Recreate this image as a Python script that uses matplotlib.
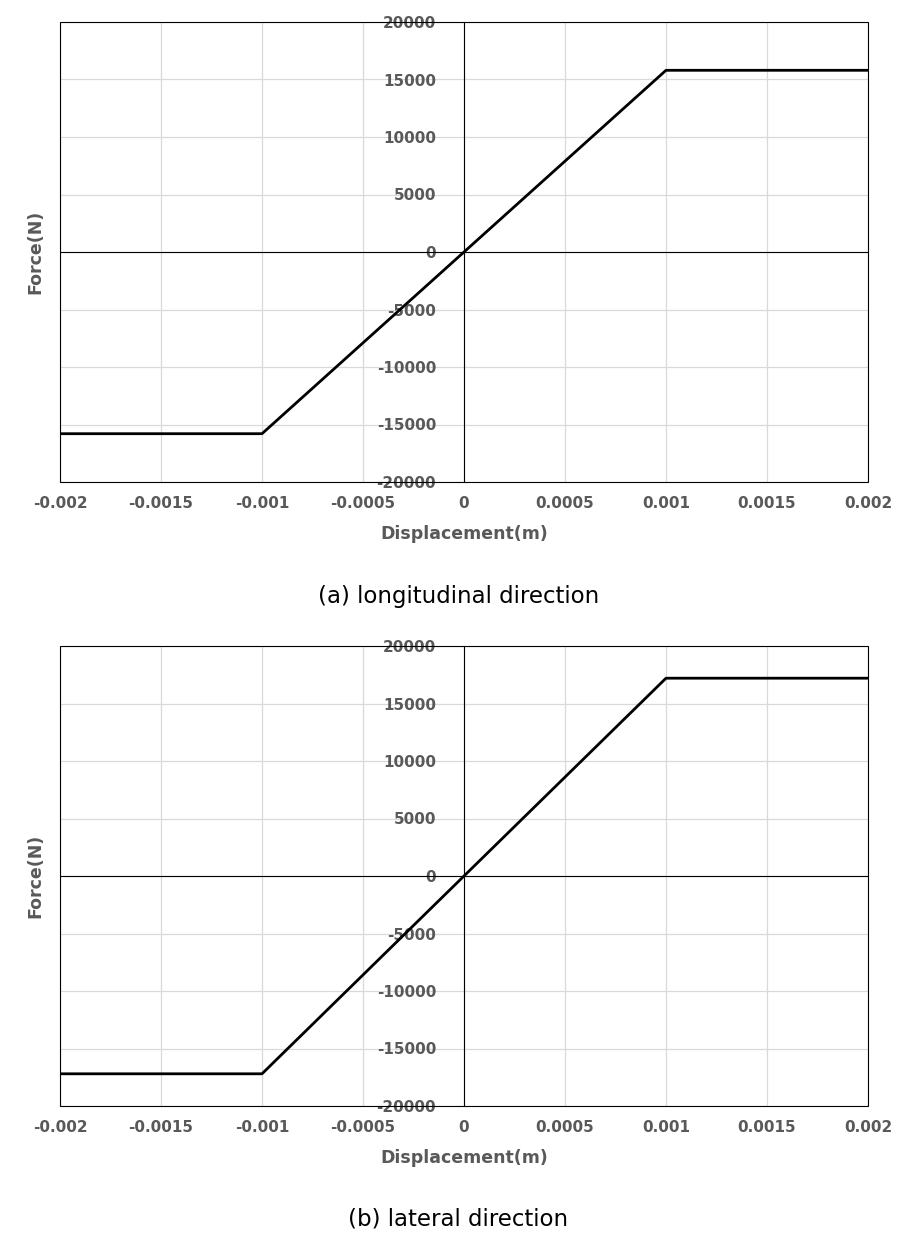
import matplotlib
matplotlib.use("Agg")
import matplotlib.pyplot as plt
from matplotlib.patches import Rectangle

disp = [-0.002, -0.001, -0.0005, 0.0, 0.0005, 0.001, 0.002]
force_long = [-15800, -15800, -7900, 0, 7900, 15800, 15800]
force_lat = [-17200, -17200, -8600, 0, 8600, 17200, 17200]
xticks = [-0.002, -0.0015, -0.001, -0.0005, 0, 0.0005, 0.001, 0.0015, 0.002]
xticklabels = ["-0.002", "-0.0015", "-0.001", "-0.0005", "0", "0.0005", "0.001", "0.0015", "0.002"]
yticks = [-20000, -15000, -10000, -5000, 0, 5000, 10000, 15000, 20000]
captions = ["(a) longitudinal direction", "(b) lateral direction"]

W, H = 917, 1239
fig = plt.figure(figsize=(W/100, H/100), dpi=100)
grey = "#595959"

def panel(rect, force, caption, cap_y):
    ax = fig.add_axes(rect)
    ax.plot(disp, force, color="black", lw=2)
    ax.set_xlim(-0.002, 0.002)
    ax.set_ylim(-20000, 20000)
    ax.set_xticks(xticks)
    ax.set_xticklabels(xticklabels)
    ax.set_yticks(yticks)
    ax.set_yticklabels([str(v) for v in yticks])
    ax.grid(True, color="#d9d9d9", lw=0.9)
    ax.set_axisbelow(True)
    for s in ["top", "right", "bottom", "left"]:
        ax.spines[s].set_visible(False)
    ax.spines["left"].set_visible(True)
    ax.spines["left"].set_position("zero")
    ax.spines["left"].set_linewidth(0.8)
    ax.axhline(0, color="black", lw=0.8)
    ax.add_patch(Rectangle((0, 0), 1, 1, transform=ax.transAxes, fill=False,
                           edgecolor="black", lw=0.8, clip_on=False, zorder=5))
    ax.tick_params(axis="both", which="both", length=0, labelsize=11, labelcolor=grey)
    ax.tick_params(axis="x", pad=10)
    ax.tick_params(axis="y", pad=20)
    for t in ax.get_xticklabels() + ax.get_yticklabels():
        t.set_fontweight("bold")
    ax.set_xlabel("Displacement(m)", fontsize=12.5, fontweight="bold", color=grey, labelpad=10)
    ax.text(-0.03, 0.5, "Force(N)", transform=ax.transAxes, rotation=90, ha="center",
            va="center", fontsize=12.5, fontweight="bold", color=grey)
    fig.text(0.5, 1 - cap_y/H, caption, ha="center", va="center", fontsize=16.5)
    return ax

panel([60/W, 1 - 482/H, 808/W, 460/H], force_long, captions[0], 596)
panel([60/W, 1 - 1106/H, 808/W, 460/H], force_lat, captions[1], 1219)
fig.savefig("out.png", dpi=100)
